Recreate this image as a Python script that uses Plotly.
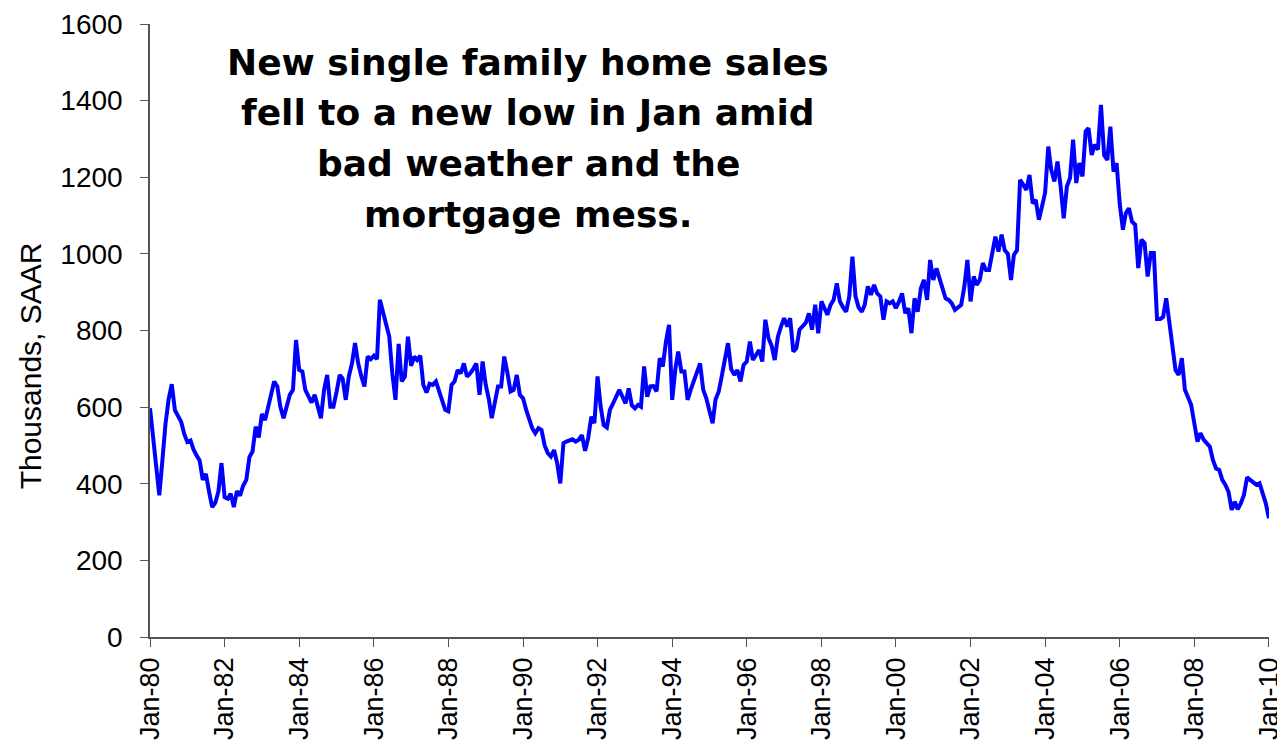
import pandas as pd
import plotly.graph_objects as go

# New single-family home sales, thousands SAAR, monthly Jan-1980 .. Jan-2010
sales_1980s = [
    597, 520, 440, 370, 460, 557, 620, 660, 592, 575, 562, 530,   # 1980
    509, 513, 490, 474, 461, 410, 426, 380, 339, 350, 380, 454,   # 1981
    365, 361, 374, 339, 381, 369, 395, 410, 470, 484, 549, 521,   # 1982
    582, 566, 597, 640, 667, 654, 600, 571, 606, 632, 645, 775,   # 1983
    697, 693, 645, 625, 612, 632, 600, 571, 645, 684, 601, 601,   # 1984
    640, 684, 675, 619, 680, 714, 767, 714, 680, 654, 732, 725,   # 1985
    734, 725, 880, 845, 810, 784, 688, 619, 765, 667, 680, 784,   # 1986
    708, 732, 723, 734, 658, 638, 661, 658, 667, 645, 619, 593,   # 1987
    589, 658, 667, 697, 688, 714, 680, 688, 700, 714, 632, 719,   # 1988
    658, 620, 571, 615, 654, 654, 732, 690, 641, 645, 684, 632,   # 1989
]
sales_1990s = [
    623, 593, 570, 545, 532, 545, 540, 500, 480, 471, 488, 454,   # 1990
    401, 506, 510, 512, 516, 510, 515, 527, 486, 519, 575, 558,   # 1991
    680, 600, 553, 547, 593, 610, 627, 645, 627, 610, 649, 605,   # 1992
    597, 606, 601, 706, 627, 654, 655, 641, 728, 706, 771, 815,   # 1993
    619, 700, 745, 693, 693, 619, 645, 671, 690, 714, 645, 623,   # 1994
    590, 558, 619, 640, 680, 723, 767, 700, 684, 697, 667, 710,   # 1995
    719, 771, 723, 736, 749, 719, 828, 780, 760, 723, 784, 810,   # 1996
    832, 810, 832, 745, 754, 802, 810, 820, 845, 802, 867, 793,   # 1997
    876, 860, 841, 867, 880, 923, 876, 860, 849, 889, 993, 889,   # 1998
    860, 849, 867, 915, 893, 919, 897, 889, 828, 876, 871, 876,   # 1999
]
sales_2000s = [
    858, 876, 897, 845, 858, 793, 884, 849, 910, 932, 880, 984,   # 2000
    932, 962, 937, 910, 884, 880, 871, 854, 860, 867, 915, 984,   # 2001
    876, 941, 919, 932, 976, 958, 958, 1000, 1045, 1006, 1050, 1010,   # 2002
    1000, 932, 997, 1010, 1193, 1180, 1167, 1206, 1132, 1141, 1089, 1123,   # 2003
    1160, 1280, 1219, 1189, 1241, 1176, 1093, 1176, 1198, 1298, 1185, 1237,   # 2004
    1202, 1320, 1328, 1258, 1285, 1272, 1389, 1258, 1245, 1332, 1215, 1237,   # 2005
    1130, 1063, 1106, 1119, 1084, 1076, 963, 1037, 1028, 941, 1002, 1002,   # 2006
    830, 830, 835, 884, 823, 775, 697, 684, 728, 645, 627, 606,   # 2007
    558, 510, 532, 515, 506, 497, 462, 440, 436, 410, 397, 379,   # 2008
    332, 353, 333, 349, 371, 417, 410, 405, 397, 401, 375, 349,   # 2009
    310,                                                           # Jan 2010
]
sales = sales_1980s + sales_1990s + sales_2000s
dates = pd.date_range("1980-01-01", periods=len(sales), freq="MS")

y_ticks = [0, 200, 400, 600, 800, 1000, 1200, 1400, 1600]
title_lines = [
    "New single family home sales",
    "fell to a new low in Jan amid",
    "bad weather and the",
    "mortgage mess.",
]

axis_font = dict(family="Liberation Sans, Arial, sans-serif", size=28, color="black")
x_font = dict(family="Liberation Sans, Arial, sans-serif", size=27, color="black")

fig = go.Figure()
fig.add_trace(go.Scatter(
    x=dates, y=sales, mode="lines",
    line=dict(color="#0000FF", width=4),
    showlegend=False,
))

# callout text, one annotation per line to keep the wide line spacing
annotations = []
for i, line in enumerate(title_lines):
    annotations.append(dict(
        text="<b>" + line + "</b>",
        xref="paper", yref="paper", x=0.338, y=0.938 - i * 0.083,
        xanchor="center", yanchor="middle", showarrow=False,
        font=dict(family="Comic Sans MS, DejaVu Sans, sans-serif", size=36, color="black"),
    ))

# y-axis title sits a bit below the middle in the original
annotations.append(dict(
    text="Thousands, SAAR", textangle=-90,
    xref="paper", yref="paper", x=-0.107, y=0.442,
    xanchor="center", yanchor="middle", showarrow=False,
    font=dict(family="Liberation Sans, Arial, sans-serif", size=30, color="black"),
))

# page body has an 8px margin, so the figure is sized 8px smaller
fig.update_layout(
    width=1277, height=743,
    margin=dict(l=142, r=16, t=16, b=114),
    paper_bgcolor="white", plot_bgcolor="white",
    xaxis=dict(
        range=[dates[0], pd.Timestamp("2010-01-01 12:00")],
        tickmode="linear", tick0="1980-01-01", dtick="M24",
        tickformat="%b-%y", tickangle=-90,
        ticks="outside", ticklen=8, tickcolor="#555",
        showline=True, linecolor="#555", linewidth=1.5,
        showgrid=False, zeroline=False, automargin=False,
        tickfont=x_font, ticklabeloverflow="allow",
    ),
    yaxis=dict(
        range=[0, 1600],
        tickvals=y_ticks,
        ticks="outside", ticklen=8, tickcolor="#555",
        showline=True, linecolor="#555", linewidth=1.5,
        showgrid=False, zeroline=False, automargin=False,
        tickfont=axis_font, ticklabelstandoff=12,
    ),
    annotations=annotations,
)

fig.write_html("out.html")
